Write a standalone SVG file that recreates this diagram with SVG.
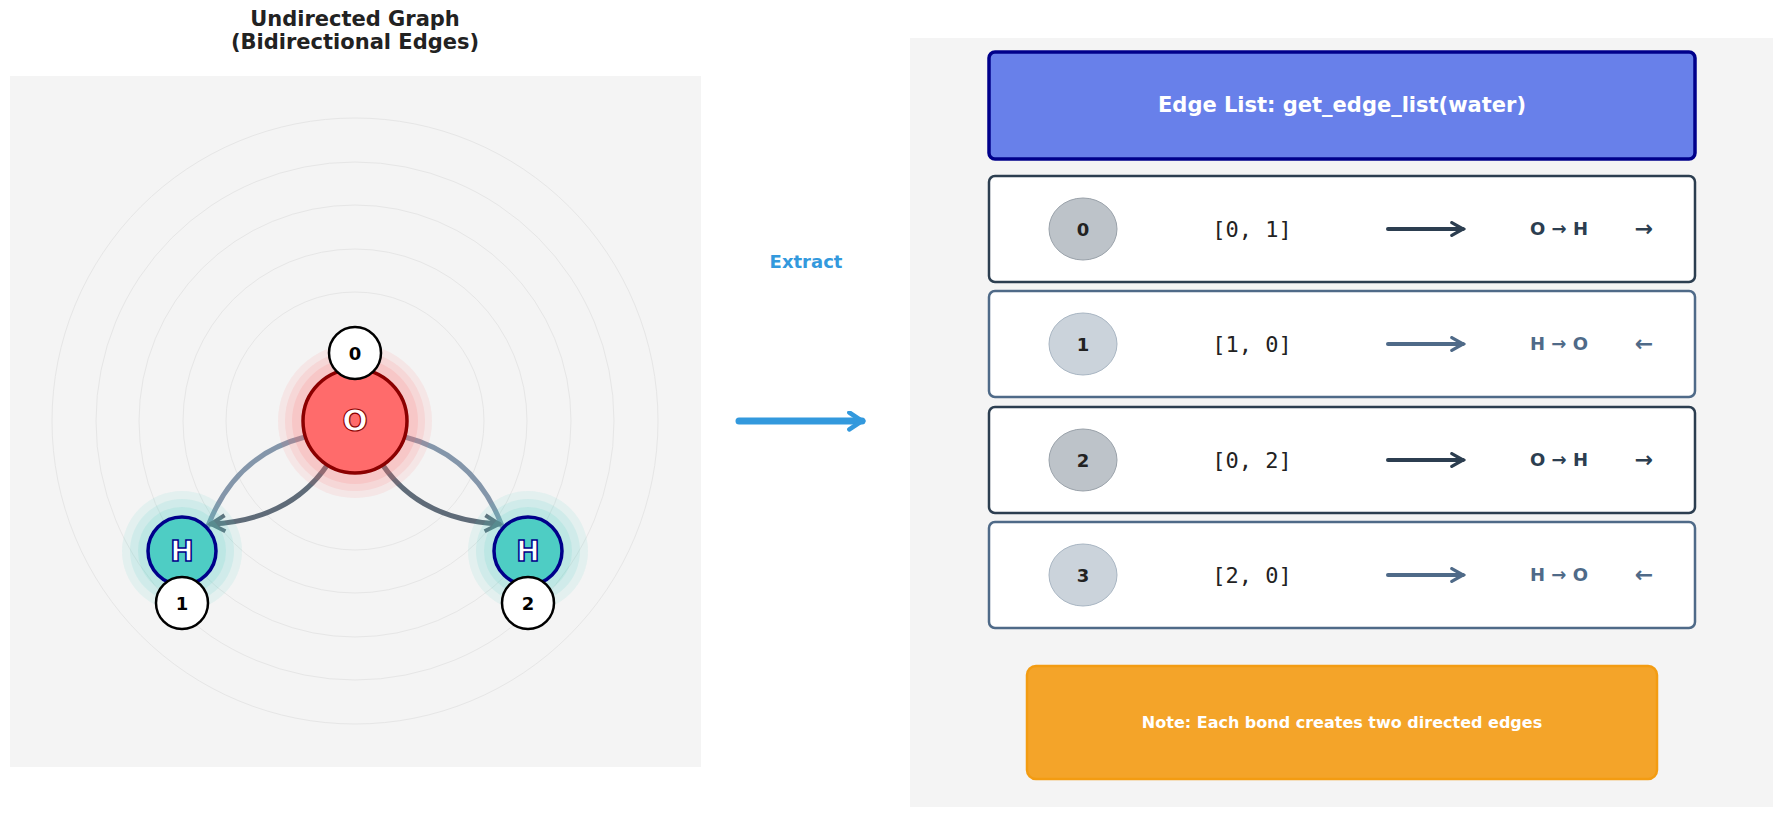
<svg xmlns="http://www.w3.org/2000/svg" width="1784" height="817" viewBox="0 0 1784 817">
<defs>
<style>
.t{font-family:"DejaVu Sans",sans-serif;font-weight:bold}
.ring{fill:none;stroke:#e6e6e6;stroke-width:1}
.row{fill:#fff;stroke-width:2.5}
.code{font-family:"DejaVu Sans Mono",monospace;font-size:22px;fill:#222;text-anchor:middle}
.lbl{fill:#fff;stroke:#000;stroke-width:2.5}
</style>
<marker id="ah" viewBox="0 0 10 10" refX="8" refY="5" markerWidth="4" markerHeight="4" orient="auto" markerUnits="strokeWidth"><path d="M1,1 L8,5 L1,9" fill="none" stroke="context-stroke" stroke-width="2"/></marker>
<marker id="ahD" viewBox="0 0 10 10" refX="8" refY="5" markerWidth="4" markerHeight="4" orient="auto"><path d="M1,1 L8,5 L1,9" fill="none" stroke="#5f6b78" stroke-width="2"/></marker>
<marker id="ahB" viewBox="0 0 10 10" refX="7" refY="5" markerWidth="3" markerHeight="3" orient="auto"><path d="M1,1 L7,5 L1,9" fill="none" stroke="#3399dd" stroke-width="2.2" stroke-linecap="round"/></marker>
<marker id="ah1" viewBox="0 0 10 10" refX="8" refY="5" markerWidth="4" markerHeight="4" orient="auto"><path d="M1,1 L8,5 L1,9" fill="none" stroke="#2c3e50" stroke-width="2" stroke-linecap="round"/></marker>
<marker id="ah2" viewBox="0 0 10 10" refX="8" refY="5" markerWidth="4" markerHeight="4" orient="auto"><path d="M1,1 L8,5 L1,9" fill="none" stroke="#4f6a88" stroke-width="2" stroke-linecap="round"/></marker>
</defs>
<rect width="1784" height="817" fill="#fff"/>
<text class="t" x="355" y="26" font-size="21" fill="#222" text-anchor="middle">Undirected Graph</text>
<text class="t" x="355" y="49" font-size="21" fill="#222" text-anchor="middle">(Bidirectional Edges)</text>
<g id="left-panel">
<rect x="10" y="76" width="691" height="691" fill="#f4f4f4"/>
<circle class="ring" cx="355" cy="421" r="303"/>
<circle class="ring" cx="355" cy="421" r="259"/>
<circle class="ring" cx="355" cy="421" r="216"/>
<circle class="ring" cx="355" cy="421" r="172"/>
<circle class="ring" cx="355" cy="421" r="129"/>
</g>
<g id="connectors" fill="none" stroke-width="5" stroke-linecap="round">
<path d="M208,526 Q235,455 305,437" stroke="#8496aa"/>
<path d="M328,464 Q290,520 211,524" stroke="#5f6b78" marker-end="url(#ahD)"/>
<path d="M502,526 Q475,455 405,437" stroke="#8496aa"/>
<path d="M382,464 Q420,520 499,524" stroke="#5f6b78" marker-end="url(#ahD)"/>
<path d="M739,421 L862,421" stroke="#3399dd" stroke-width="7" marker-end="url(#ahB)"/>
</g>
<g id="node-O">
<circle cx="355" cy="421" r="77" fill="#ff6b6b" opacity="0.1"/>
<circle cx="355" cy="421" r="70" fill="#ff6b6b" opacity="0.12"/>
<circle cx="355" cy="421" r="63" fill="#ff6b6b" opacity="0.15"/>
<circle cx="355" cy="421" r="52" fill="#ff6b6b" stroke="#8b0000" stroke-width="3.5"/>
<text class="t" x="355" y="431" font-size="30" fill="#fff" stroke="#8b0000" stroke-width="1.2" text-anchor="middle" font-weight="normal">O</text>
</g>
<g id="node-H1">
<circle cx="182" cy="551" r="60" fill="#4ecdc4" opacity="0.1"/>
<circle cx="182" cy="551" r="52" fill="#4ecdc4" opacity="0.12"/>
<circle cx="182" cy="551" r="44" fill="#4ecdc4" opacity="0.15"/>
<circle cx="182" cy="551" r="34" fill="#4ecdc4" stroke="#00008b" stroke-width="3.5"/>
<text class="t" x="182" y="561" font-size="28" fill="#fff" stroke="#00008b" stroke-width="1.5" text-anchor="middle">H</text>
</g>
<g id="node-H2">
<circle cx="528" cy="551" r="60" fill="#4ecdc4" opacity="0.1"/>
<circle cx="528" cy="551" r="52" fill="#4ecdc4" opacity="0.12"/>
<circle cx="528" cy="551" r="44" fill="#4ecdc4" opacity="0.15"/>
<circle cx="528" cy="551" r="34" fill="#4ecdc4" stroke="#00008b" stroke-width="3.5"/>
<text class="t" x="528" y="561" font-size="28" fill="#fff" stroke="#00008b" stroke-width="1.5" text-anchor="middle">H</text>
</g>
<g id="labels">
<circle class="lbl" cx="355" cy="353" r="26"/>
<text class="t" x="355" y="360" font-size="18" text-anchor="middle">0</text>
<circle class="lbl" cx="182" cy="603" r="26"/>
<text class="t" x="182" y="610" font-size="18" text-anchor="middle">1</text>
<circle class="lbl" cx="528" cy="603" r="26"/>
<text class="t" x="528" y="610" font-size="18" text-anchor="middle">2</text>
</g>
<text class="t" x="806" y="268" font-size="18" fill="#3399dd" text-anchor="middle">Extract</text>
<g id="right-panel">
<rect x="910" y="38" width="863" height="769" fill="#f4f4f4"/>
</g>
<g id="header">
<rect x="989" y="52" width="706" height="107" rx="6" fill="#6880ea" stroke="#00008b" stroke-width="3.5"/>
<text class="t" x="1342" y="112" font-size="21" fill="#fff" text-anchor="middle">Edge List: get_edge_list(water)</text>
</g>
<g id="edge0">
<rect class="row" x="989" y="176" width="706" height="106" rx="6" stroke="#2c3e50"/>
<ellipse cx="1083" cy="229" rx="34" ry="31" fill="#bdc3c9" stroke="#9aa2aa" stroke-width="1"/>
<text class="t" x="1083" y="236" font-size="18" fill="#222" text-anchor="middle">0</text>
<text class="code" x="1252" y="237">[0, 1]</text>
<line x1="1388" y1="229" x2="1463" y2="229" stroke="#2c3e50" stroke-width="4" stroke-linecap="round" marker-end="url(#ah1)"/>
<text class="t" x="1559" y="235" font-size="18" fill="#2c3e50" text-anchor="middle">O → H</text>
<text class="t" x="1644" y="236" font-size="22" fill="#2c3e50" text-anchor="middle" font-weight="normal">→</text>
</g>
<g id="edge1">
<rect class="row" x="989" y="291" width="706" height="106" rx="6" stroke="#4f6a88"/>
<ellipse cx="1083" cy="344" rx="34" ry="31" fill="#cbd3db" stroke="#a9b6c3" stroke-width="1"/>
<text class="t" x="1083" y="351" font-size="18" fill="#222" text-anchor="middle">1</text>
<text class="code" x="1252" y="352">[1, 0]</text>
<line x1="1388" y1="344" x2="1463" y2="344" stroke="#4f6a88" stroke-width="4" stroke-linecap="round" marker-end="url(#ah2)"/>
<text class="t" x="1559" y="350" font-size="18" fill="#4f6a88" text-anchor="middle">H → O</text>
<text class="t" x="1644" y="351" font-size="22" fill="#4f6a88" text-anchor="middle" font-weight="normal">←</text>
</g>
<g id="edge2">
<rect class="row" x="989" y="407" width="706" height="106" rx="6" stroke="#2c3e50"/>
<ellipse cx="1083" cy="460" rx="34" ry="31" fill="#bdc3c9" stroke="#9aa2aa" stroke-width="1"/>
<text class="t" x="1083" y="467" font-size="18" fill="#222" text-anchor="middle">2</text>
<text class="code" x="1252" y="468">[0, 2]</text>
<line x1="1388" y1="460" x2="1463" y2="460" stroke="#2c3e50" stroke-width="4" stroke-linecap="round" marker-end="url(#ah1)"/>
<text class="t" x="1559" y="466" font-size="18" fill="#2c3e50" text-anchor="middle">O → H</text>
<text class="t" x="1644" y="467" font-size="22" fill="#2c3e50" text-anchor="middle" font-weight="normal">→</text>
</g>
<g id="edge3">
<rect class="row" x="989" y="522" width="706" height="106" rx="6" stroke="#4f6a88"/>
<ellipse cx="1083" cy="575" rx="34" ry="31" fill="#cbd3db" stroke="#a9b6c3" stroke-width="1"/>
<text class="t" x="1083" y="582" font-size="18" fill="#222" text-anchor="middle">3</text>
<text class="code" x="1252" y="583">[2, 0]</text>
<line x1="1388" y1="575" x2="1463" y2="575" stroke="#4f6a88" stroke-width="4" stroke-linecap="round" marker-end="url(#ah2)"/>
<text class="t" x="1559" y="581" font-size="18" fill="#4f6a88" text-anchor="middle">H → O</text>
<text class="t" x="1644" y="582" font-size="22" fill="#4f6a88" text-anchor="middle" font-weight="normal">←</text>
</g>
<g id="note">
<rect x="1027" y="666" width="630" height="113" rx="9" fill="#f4a429" stroke="#f39c12" stroke-width="2.5"/>
<text class="t" x="1342" y="728" font-size="16" fill="#fff" text-anchor="middle">Note: Each bond creates two directed edges</text>
</g>
</svg>
